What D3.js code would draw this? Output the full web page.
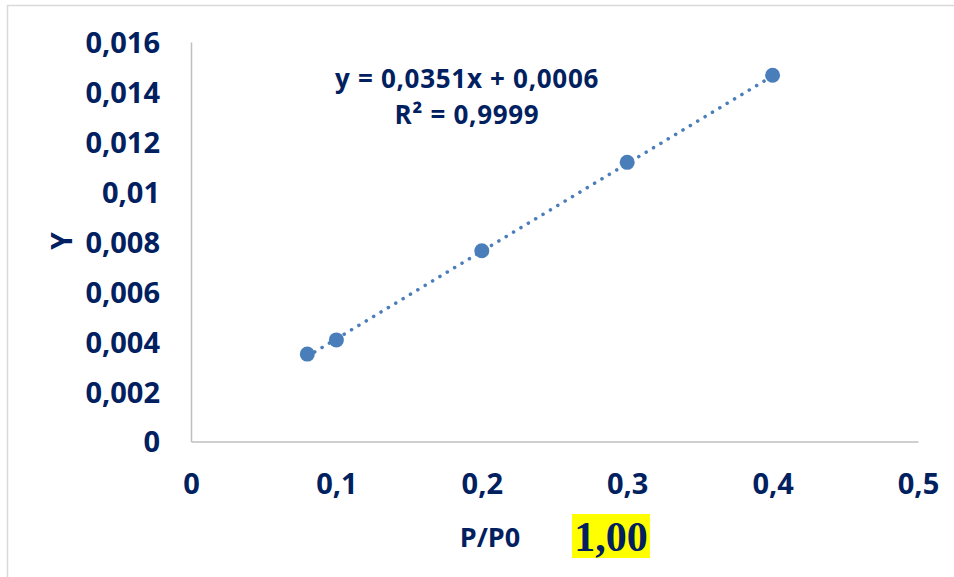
<!DOCTYPE html>
<html>
<head>
<meta charset="utf-8">
<script src="https://cdn.jsdelivr.net/npm/d3@7"></script>
<style>
  body { margin: 0; background: #ffffff; }
  svg text { font-family: "Open Sans", "Noto Sans", sans-serif; font-weight: 700; fill: #002060; }
</style>
</head>
<body>
<div id="canvas"></div>
<script>
// Data
var x_values = [0.08, 0.1, 0.2, 0.3, 0.4];
var y_values = [0.0035, 0.00407, 0.00764, 0.01118, 0.01467];
var x_ticks = [0, 0.1, 0.2, 0.3, 0.4, 0.5];
var y_ticks = [0, 0.002, 0.004, 0.006, 0.008, 0.01, 0.012, 0.014, 0.016];
var trend_slope = 0.0351;
var trend_intercept = 0.0006;
var trend_range = [0.08, 0.4];
var equation_lines = ["y = 0,0351x + 0,0006", "R² = 0,9999"];
var x_title = "P/P0";
var y_title = "Y";
var badge_text = "1,00";

var canvas_w = 954;
var canvas_h = 577;
var blue = "#4a7ebb";

// Decimal comma like the source
function fmt(v) {
  return String(+v.toFixed(3)).replace(".", ",");
}

var canvas = d3.select("#canvas").append("svg")
  .attr("width", canvas_w)
  .attr("height", canvas_h);

// Chart border (only top and left show)
canvas.append("polyline")
  .attr("points", "7.5," + canvas_h + " 7.5,5.5 " + canvas_w + ",5.5")
  .style("fill", "none")
  .style("stroke", "#d9d9d9")
  .style("stroke-width", 1.5);

var x = d3.scaleLinear().domain([0, 0.5]).range([191, 918]);
var y = d3.scaleLinear().domain([0, 0.016]).range([441.5, 42]);

// Axes
var x_axis = canvas.append("g")
  .attr("transform", "translate(0," + y(0) + ")")
  .call(d3.axisBottom(x).tickValues(x_ticks).tickFormat(fmt).tickSize(0).tickPadding(44));
var y_axis = canvas.append("g")
  .attr("transform", "translate(" + x(0) + ",0)")
  .call(d3.axisLeft(y).tickValues(y_ticks).tickFormat(fmt).tickSize(0).tickPadding(31));

[x_axis, y_axis].forEach(function(ax) {
  ax.select(".domain").style("stroke", "#bfbfbf").style("stroke-width", 1.5);
  ax.selectAll("text")
    .style("font-size", "29px")
    .attr("fill", null);
  ax.attr("font-family", null).attr("font-size", null);
});
y_axis.selectAll("text").attr("dy", "0.36em");
x_axis.selectAll("text").attr("dy", "0.3em");

// Trendline
var trend = trend_range.map(function(v) { return [v, trend_slope * v + trend_intercept]; });
canvas.append("path")
  .attr("d", d3.line().x(function(d) { return x(d[0]); }).y(function(d) { return y(d[1]); })(trend))
  .style("fill", "none")
  .style("stroke", blue)
  .style("stroke-width", 3.5)
  .style("stroke-linecap", "round")
  .style("stroke-dasharray", "0.1 8.5");

// Points
canvas.selectAll("circle.pt")
  .data(x_values)
  .enter().append("circle")
  .attr("class", "pt")
  .attr("cx", function(d) { return x(d); })
  .attr("cy", function(d, i) { return y(y_values[i]); })
  .attr("r", 7.5)
  .style("fill", blue);

// Equation label
canvas.selectAll("text.eq")
  .data(equation_lines)
  .enter().append("text")
  .attr("class", "eq")
  .attr("x", 467)
  .attr("y", function(d, i) { return 88 + i * 36; })
  .attr("text-anchor", "middle")
  .style("font-size", "26px")
  .style("letter-spacing", "0.7px")
  .text(function(d) { return d; });

// Axis titles
canvas.append("text")
  .attr("x", 490)
  .attr("y", 547)
  .attr("text-anchor", "middle")
  .style("font-size", "27px")
  .text(x_title);

canvas.append("text")
  .attr("transform", "translate(72,241) rotate(-90)")
  .attr("text-anchor", "middle")
  .style("font-size", "28px")
  .text(y_title);

// Yellow highlighted value
canvas.append("rect")
  .attr("x", 572)
  .attr("y", 514)
  .attr("width", 78)
  .attr("height", 44)
  .style("fill", "#ffff00");

canvas.append("text")
  .attr("x", 611)
  .attr("y", 551)
  .attr("text-anchor", "middle")
  .style("font-family", "'Liberation Serif', serif")
  .style("font-size", "42px")
  .text(badge_text);
</script>
</body>
</html>
